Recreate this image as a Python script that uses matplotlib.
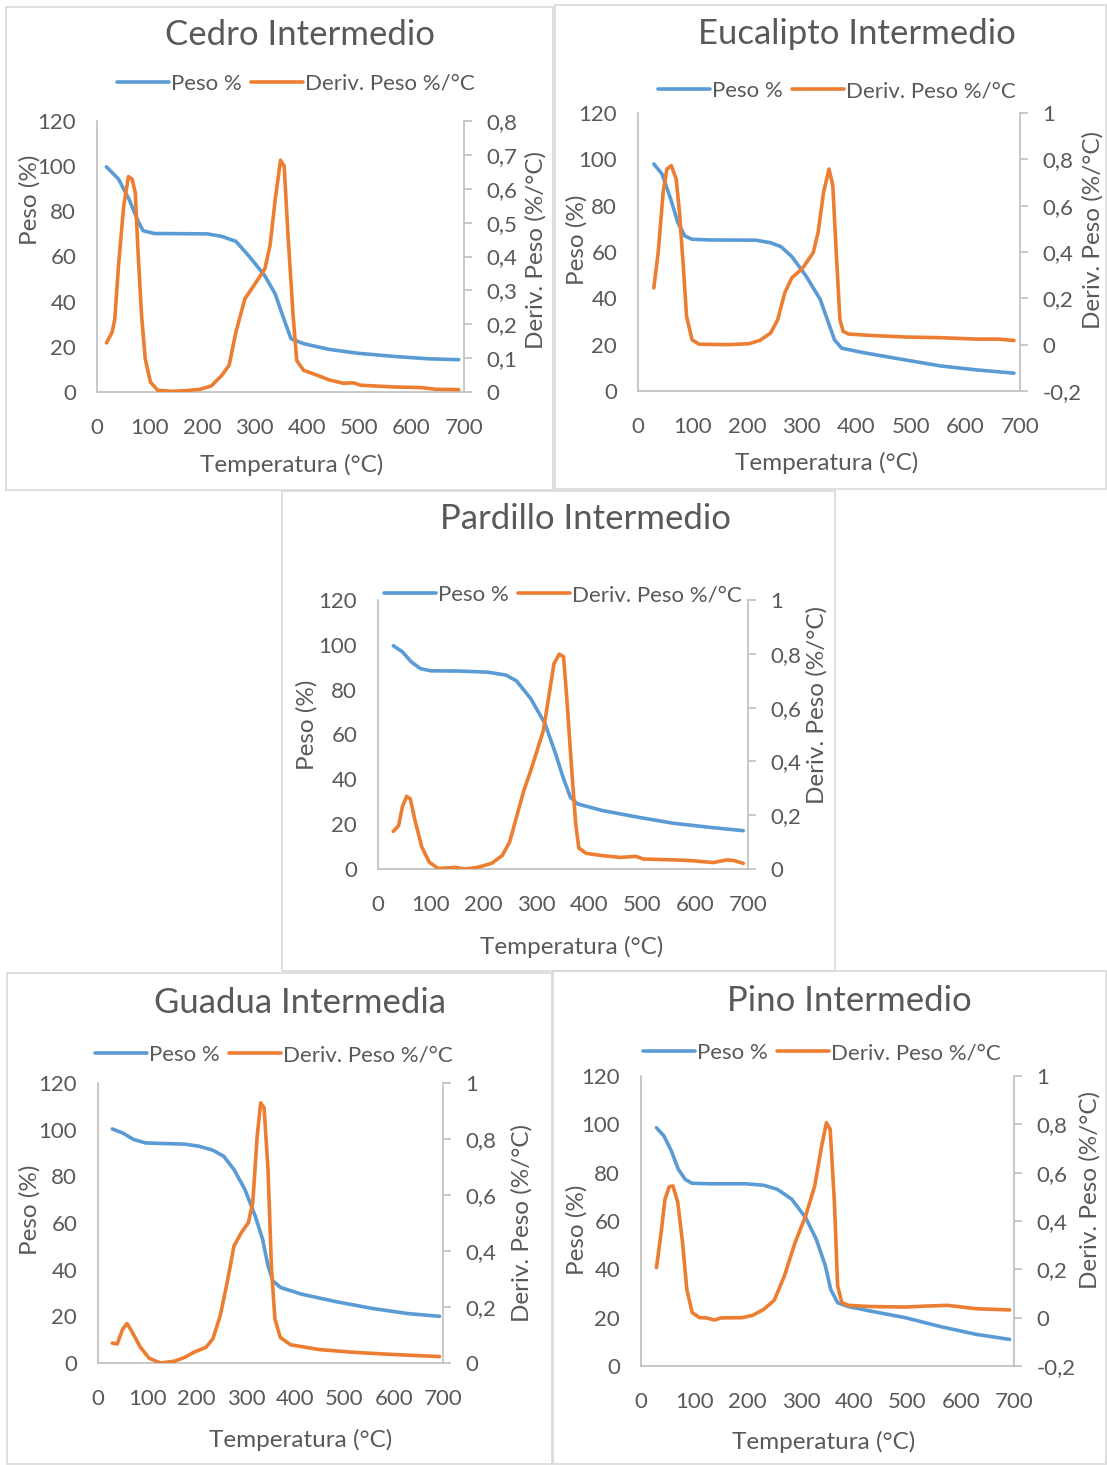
import numpy as np
import matplotlib
matplotlib.use("Agg")
import matplotlib.pyplot as plt
from matplotlib.patches import Rectangle
from matplotlib.ticker import FuncFormatter, MultipleLocator

plt.rcParams['font.family'] = ['Lato', 'DejaVu Sans']

W, H = 1107, 1465
BLUE = '#5B9BD5'
ORANGE = '#ED7D31'
TXT = '#595959'
GRID = '#BFBFBF'

cedro_t = [18, 41, 61, 78, 88, 109, 211, 238, 265, 292, 320, 340, 354, 370, 394, 442, 496, 564, 632, 690]
cedro_peso = [99.7, 94.3, 85.4, 75.8, 71.4, 70.2, 70.0, 68.9, 66.7, 59.6, 51.5, 43.4, 33.9, 23.6, 21.4, 18.9, 17.2, 15.8, 14.7, 14.3]
cedro_td = [18, 29, 34, 41, 51, 60, 67, 73, 78, 85, 92, 102, 116, 143, 170, 197, 218, 238, 252, 265,
            282, 299, 320, 330, 340, 350, 357, 364, 374, 381, 394, 421, 442, 469, 489, 503, 564, 619, 646, 690]
cedro_deriv = [0.145, 0.177, 0.216, 0.373, 0.55, 0.636, 0.628, 0.589, 0.422, 0.226, 0.098, 0.029, 0.005, 0.002,
               0.004, 0.008, 0.018, 0.049, 0.079, 0.177, 0.275, 0.314, 0.363, 0.432, 0.569, 0.684, 0.667, 0.471,
               0.226, 0.093, 0.064, 0.049, 0.036, 0.026, 0.027, 0.02, 0.015, 0.013, 0.008, 0.007]

euca_t = [29, 44, 60, 73, 86, 99, 132, 216, 243, 262, 282, 308, 334, 347, 360, 373, 412, 490, 555, 621, 689]
euca_peso = [98.0, 93.7, 82.8, 72.7, 66.9, 65.5, 65.2, 65.1, 64.0, 62.3, 58.0, 49.6, 39.5, 30.8, 22.1, 18.5,
             16.6, 13.4, 10.8, 9.1, 7.7]
euca_td = [29, 37, 46, 53, 61, 70, 76, 83, 89, 99, 112, 164, 203, 223, 243, 256, 269, 282, 301, 321, 330,
           340, 350, 357, 363, 370, 376, 386, 425, 490, 555, 621, 660, 689]
euca_deriv = [0.245, 0.397, 0.657, 0.758, 0.773, 0.715, 0.571, 0.339, 0.122, 0.021, 0.002, 0.0, 0.004, 0.018,
              0.05, 0.108, 0.224, 0.289, 0.328, 0.397, 0.484, 0.657, 0.758, 0.686, 0.411, 0.108, 0.057, 0.046,
              0.04, 0.033, 0.03, 0.024, 0.024, 0.018]

pard_t = [29, 46, 63, 80, 100, 154, 208, 242, 262, 289, 316, 336, 350, 364, 377, 424, 492, 559, 627, 691]
pard_peso = [99.6, 96.9, 92.4, 89.4, 88.4, 88.3, 87.8, 86.5, 83.9, 76.0, 64.8, 51.4, 41.0, 32.0, 29.1, 26.1,
             23.1, 20.4, 18.6, 17.1]
pard_td = [29, 39, 46, 54, 61, 70, 83, 97, 114, 147, 164, 188, 215, 235, 249, 262, 276, 289, 303, 313, 323,
           333, 343, 351, 357, 367, 374, 380, 394, 424, 458, 488, 502, 559, 593, 634, 661, 674, 691]
pard_deriv = [0.14, 0.161, 0.23, 0.27, 0.261, 0.18, 0.081, 0.025, 0.002, 0.006, 0.0, 0.006, 0.021, 0.05, 0.1,
              0.193, 0.292, 0.366, 0.453, 0.516, 0.64, 0.764, 0.799, 0.789, 0.64, 0.354, 0.168, 0.078, 0.058,
              0.05, 0.043, 0.047, 0.037, 0.034, 0.031, 0.024, 0.034, 0.031, 0.021]

guad_t = [29, 50, 72, 97, 126, 176, 205, 233, 255, 276, 298, 319, 334, 345, 355, 370, 413, 485, 556, 628, 693]
guad_peso = [100.3, 98.6, 95.8, 94.3, 94.1, 93.8, 92.9, 91.2, 88.6, 82.9, 74.4, 63.0, 53.0, 41.6, 35.2, 32.4,
             29.5, 26.2, 23.4, 21.2, 20.0]
guad_td = [29, 39, 50, 59, 68, 86, 104, 126, 154, 176, 194, 219, 233, 248, 262, 276, 291, 305, 314, 323, 330,
           337, 345, 352, 359, 370, 391, 449, 520, 592, 693]
guad_deriv = [0.071, 0.068, 0.121, 0.141, 0.115, 0.056, 0.017, 0.0, 0.006, 0.02, 0.038, 0.056, 0.086, 0.169,
              0.287, 0.418, 0.466, 0.501, 0.572, 0.81, 0.929, 0.911, 0.69, 0.335, 0.157, 0.091, 0.065, 0.048,
              0.038, 0.031, 0.023]

pino_t = [29, 43, 57, 70, 83, 96, 130, 196, 230, 256, 283, 309, 329, 346, 356, 369, 389, 429, 496, 562, 629, 692]
pino_peso = [98.6, 95.2, 89.0, 81.4, 77.2, 75.6, 75.4, 75.4, 74.8, 73.1, 69.0, 61.4, 52.4, 41.4, 31.7, 26.2,
             24.6, 22.8, 20.0, 16.3, 13.1, 11.0]
pino_td = [29, 37, 45, 53, 60, 69, 78, 86, 96, 110, 123, 138, 150, 190, 210, 230, 250, 269, 289, 309, 326,
           339, 348, 355, 363, 369, 377, 389, 429, 496, 536, 575, 629, 692]
pino_deriv = [0.207, 0.338, 0.49, 0.542, 0.545, 0.476, 0.31, 0.117, 0.021, 0.0, -0.001, -0.01, -0.001, 0.0,
              0.01, 0.034, 0.072, 0.172, 0.31, 0.421, 0.545, 0.71, 0.807, 0.779, 0.476, 0.131, 0.062, 0.051,
              0.046, 0.044, 0.048, 0.051, 0.037, 0.032]

titles = ['Cedro Intermedio', 'Eucalipto Intermedio', 'Pardillo Intermedio', 'Guadua Intermedia', 'Pino Intermedio']
x_ticks = [0, 100, 200, 300, 400, 500, 600, 700]
y_ticks = [0, 20, 40, 60, 80, 100, 120]

# posiciones en pixeles: recuadro, area de trazado, leyenda, titulo, etiquetas
panels = [
    dict(box=(6, 7, 553, 490), plot=(97, 121, 464, 392), y2=(0, 0.8, 0.1),
         title=(300, 35), leg=(296, 84), xl=(292, 465), yl=(30, 200), y2l=(536, 250)),
    dict(box=(555, 5, 1106, 489), plot=(638, 113, 1020, 391), y2=(-0.2, 1.0, 0.2),
         title=(857, 34), leg=(837, 91), xl=(827, 463), yl=(577, 240), y2l=(1093, 230)),
    dict(box=(282, 491, 835, 971), plot=(378, 600, 748, 869), y2=(0, 1.0, 0.2),
         title=(585, 519), leg=(563, 595), xl=(572, 947), yl=(307, 725), y2l=(817, 705)),
    dict(box=(7, 973, 552, 1464), plot=(98, 1083, 443, 1363), y2=(0, 1.0, 0.2),
         title=(300, 1003), leg=(274, 1055), xl=(301, 1440), yl=(30, 1210), y2l=(522, 1223)),
    dict(box=(553, 971, 1106, 1464), plot=(641, 1076, 1014, 1366), y2=(-0.2, 1.0, 0.2),
         title=(849, 1001), leg=(822, 1053), xl=(824, 1442), yl=(577, 1230), y2l=(1090, 1190)),
]
series = [
    (cedro_t, cedro_peso, cedro_td, cedro_deriv),
    (euca_t, euca_peso, euca_td, euca_deriv),
    (pard_t, pard_peso, pard_td, pard_deriv),
    (guad_t, guad_peso, guad_td, guad_deriv),
    (pino_t, pino_peso, pino_td, pino_deriv),
]


def fx(x):
    return x / W


def fy(y):
    return 1 - y / H


def coma(v, pos=None):
    v = round(v, 2)
    if abs(v) < 1e-9:
        return '0'
    return f'{v:g}'.replace('.', ',')


fig = plt.figure(figsize=(W / 100, H / 100), dpi=100)

for p, (t1, peso, t2, deriv), title in zip(panels, series, titles):
    bx0, by0, bx1, by1 = p['box']
    fig.patches.append(Rectangle((fx(bx0), fy(by1)), fx(bx1 - bx0), (by1 - by0) / H,
                                 transform=fig.transFigure, fill=False, ec='#D9D9D9', lw=1.2))

    x0, y0, x1, y1 = p['plot']
    ax = fig.add_axes([fx(x0), fy(y1), fx(x1 - x0), (y1 - y0) / H])
    ax2 = ax.twinx()

    l1, = ax.plot(t1, peso, color=BLUE, lw=2.6, solid_joinstyle='round', solid_capstyle='round', label='Peso %')
    l2, = ax2.plot(t2, deriv, color=ORANGE, lw=2.6, solid_joinstyle='round', solid_capstyle='round',
                   label='Deriv. Peso %/°C')

    ax.set_xlim(0, 700)
    ax.set_ylim(0, 120)
    ax.set_xticks(x_ticks)
    ax.set_yticks(y_ticks)
    lo, hi, st = p['y2']
    ax2.set_ylim(lo, hi)
    ax2.yaxis.set_major_locator(MultipleLocator(st))
    ax2.yaxis.set_major_formatter(FuncFormatter(coma))

    for a in (ax, ax2):
        a.patch.set_visible(False)
        for s in a.spines.values():
            s.set_color(GRID)
            s.set_linewidth(1.2)
        a.spines['top'].set_visible(False)
    ax.spines['right'].set_visible(False)
    ax2.spines['left'].set_visible(False)
    ax2.spines['bottom'].set_visible(False)

    ax.tick_params(axis='y', length=0, labelsize=16, labelcolor=TXT, pad=15)
    ax.tick_params(axis='x', length=0, labelsize=16, labelcolor=TXT, pad=19)
    ax2.tick_params(axis='y', length=6, width=1.2, color=GRID, labelsize=16, labelcolor=TXT, pad=10)

    fig.text(fx(p['title'][0]), fy(p['title'][1]), title, ha='center', va='center', fontsize=25, color=TXT)
    fig.text(fx(p['xl'][0]), fy(p['xl'][1]), 'Temperatura (°C)', ha='center', va='center', fontsize=17.5,
             color=TXT)
    fig.text(fx(p['yl'][0]), fy(p['yl'][1]), 'Peso (%)', ha='center', va='center', rotation=90,
             fontsize=17.5, color=TXT)
    fig.text(fx(p['y2l'][0]), fy(p['y2l'][1]), 'Deriv. Peso (%/°C)', ha='center', va='center', rotation=90,
             fontsize=17.5, color=TXT)

    ax2.legend([l1, l2], ['Peso %', 'Deriv. Peso %/°C'], loc='center', ncol=2, frameon=False,
               bbox_to_anchor=(fx(p['leg'][0]), fy(p['leg'][1])), bbox_transform=fig.transFigure,
               fontsize=16, labelcolor=TXT, handlelength=2.35, handletextpad=0.1, columnspacing=0.4,
               borderpad=0, borderaxespad=0)

fig.savefig('out.png', dpi=100, facecolor='white')
